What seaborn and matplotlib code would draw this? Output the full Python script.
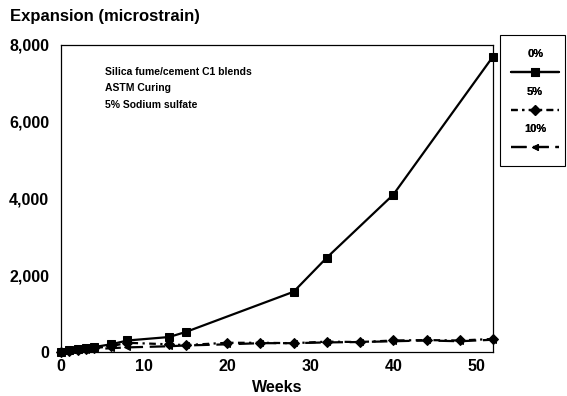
import matplotlib
matplotlib.use("Agg")
import matplotlib.pyplot as plt
import seaborn as sns
import pandas as pd
from matplotlib.patches import Rectangle

weeks_0 = [0, 1, 2, 3, 4, 6, 8, 13, 15, 28, 32, 40, 52]
exp_0 = [0, 50, 80, 100, 130, 200, 300, 390, 520, 1570, 2460, 4100, 7700]

weeks_5 = [0, 1, 2, 3, 4, 6, 8, 13, 15, 20, 24, 28, 32, 36, 40, 44, 48, 52]
exp_5 = [0, 30, 60, 80, 100, 150, 240, 200, 180, 240, 240, 230, 270, 260, 300, 310, 300, 340]

weeks_10 = [0, 1, 2, 3, 4, 6, 8, 13, 15, 20, 24, 28, 32, 36, 40, 44, 48, 52]
exp_10 = [0, 20, 40, 50, 70, 100, 120, 150, 170, 200, 230, 230, 250, 260, 280, 300, 280, 320]

labels = ["0%", "5%", "10%"]
annotation = ["Silica fume/cement C1 blends", "ASTM Curing", "5% Sodium sulfate"]

sns.set_theme(style="white")
plt.rcParams['font.family'] = ['Liberation Sans', 'DejaVu Sans']
plt.rcParams['text.color'] = 'black'
plt.rcParams['axes.labelcolor'] = 'black'
plt.rcParams['xtick.color'] = 'black'
plt.rcParams['ytick.color'] = 'black'

fig = plt.figure(figsize=(5.67, 3.96), dpi=100)
ax = fig.add_axes([61/567, 1-352/396, (493-61)/567, (352-45)/396])

df0 = pd.DataFrame({"w": weeks_0, "e": exp_0})
df5 = pd.DataFrame({"w": weeks_5, "e": exp_5})
df10 = pd.DataFrame({"w": weeks_10, "e": exp_10})

sns.lineplot(data=df0, x="w", y="e", ax=ax, color="black", lw=1.6, marker="s",
             markersize=6, markeredgecolor="black", clip_on=False, label=labels[0], legend=False)
sns.lineplot(data=df5, x="w", y="e", ax=ax, color="black", lw=1.6, marker="D",
             markersize=5, markeredgecolor="black", clip_on=False, label=labels[1], legend=False)
sns.lineplot(data=df10, x="w", y="e", ax=ax, color="black", lw=1.6, marker="<",
             markersize=5, markeredgecolor="black", clip_on=False, label=labels[2], legend=False)
lines = ax.get_lines()
lines[0].set_linestyle("-")
lines[1].set_dashes([3, 2, 1, 2])
lines[2].set_dashes([7, 3])

ax.set_xlim(0, 52)
ax.set_ylim(0, 8000)
ax.set_xticks([0, 10, 20, 30, 40, 50])
ax.set_yticks([0, 2000, 4000, 6000, 8000])
ax.set_yticklabels([f"{v:,}" for v in [0, 2000, 4000, 6000, 8000]])
ax.set_xticks([5, 15, 25, 35, 45], minor=True)
ax.set_yticks([1000, 3000, 5000, 7000], minor=True)
ax.tick_params(axis="both", which="both", direction="in", length=3, width=0.6, colors="black",
               labelsize=11.5)
ax.tick_params(axis="y", pad=8.5)
ax.tick_params(axis="x", pad=5)
for lab in ax.get_xticklabels() + ax.get_yticklabels():
    lab.set_fontweight("bold")
for s in ax.spines.values():
    s.set_color("black")
    s.set_linewidth(0.9)
ax.set_xlabel("Weeks", fontsize=11.5, fontweight="bold", labelpad=4, color="black")
ax.set_ylabel("")
fig.text(10/567, 1-17/396, "Expansion (microstrain)", fontsize=12, fontweight="bold",
         va="center", ha="left", color="black")
for txt, yp in zip(annotation, [72, 88, 105]):
    fig.text(105/567, 1-yp/396, txt, fontsize=7.5, fontweight="bold",
             va="center", ha="left", color="black")

# legend: three stacked legends with titles above the handles
tops = [40, 78, 115]
for ln, lab, t in zip(lines, labels, tops):
    leg = fig.legend(handles=[ln], labels=[""], title=lab, loc="upper center",
                     bbox_to_anchor=(535/567, 1-t/396), frameon=False,
                     handlelength=3.2, handletextpad=0, borderpad=0.1,
                     title_fontproperties={"weight": "bold", "size": 8})
    leg.get_title().set_color("black")
    fig.add_artist(leg)
fig.patches.append(Rectangle((500/567, 1-166/396), 65/567, 131/396, transform=fig.transFigure,
                             fill=False, edgecolor="black", lw=0.8))

fig.savefig("out.png", dpi=100)
